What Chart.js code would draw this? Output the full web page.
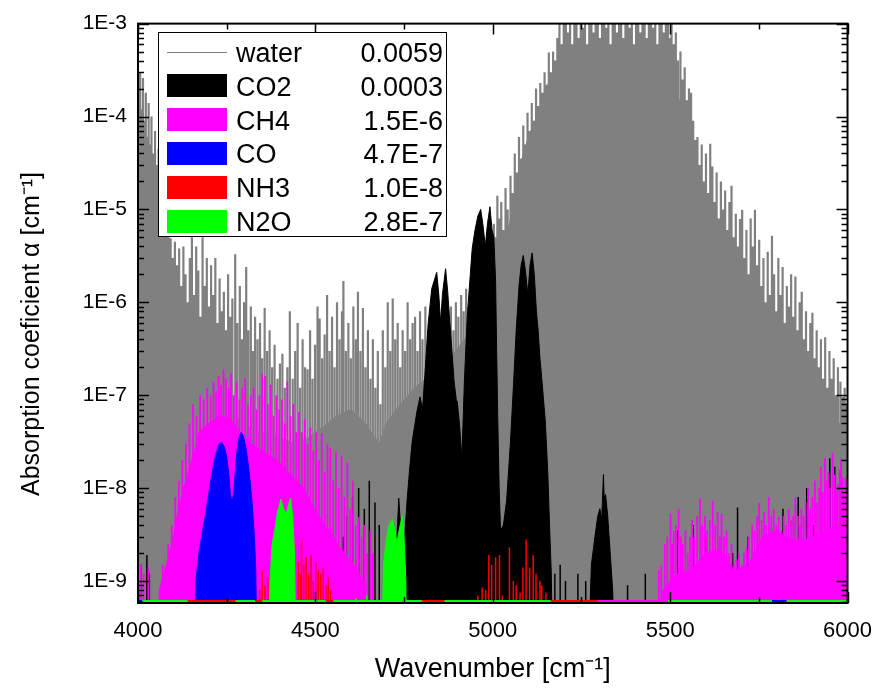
<!DOCTYPE html>
<html>
<head>
<meta charset="utf-8">
<script src="https://cdn.jsdelivr.net/npm/chart.js@4.4.1/dist/chart.umd.min.js"></script>
<style>
  html, body { margin: 0; padding: 0; background: #fff; }
</style>
</head>
<body>
<canvas id="spectrum" width="887" height="692"></canvas>
<script>
// ---- axes ----
const xRange = [4000, 6000];
const yRange = [5.8e-10, 1e-3];
const xTicks = [4000, 4500, 5000, 5500, 6000];
const yTicks = [1e-9, 1e-8, 1e-7, 1e-6, 1e-5, 1e-4, 1e-3];
const below = 1e-10; // level under the bottom of the axis
const yAxisTitle = 'Absorption coeficient α [cm⁻¹]';

// ---- legend ----
const gasNames = ['water', 'CO2', 'CH4', 'CO', 'NH3', 'N2O'];
const gasAmounts = ['0.0059', '0.0003', '1.5E-6', '4.7E-7', '1.0E-8', '2.8E-7'];

// ---- water: continuum mass + single lines ----
const waterMassNu = [4000, 4010, 4020, 4030, 4040, 4050, 4060, 4070, 4080, 4090, 4100, 4110, 4130, 4150, 4180, 4210, 4240, 4270, 4300, 4330, 4360, 4400, 4440, 4480, 4520, 4560, 4600, 4640, 4680, 4700, 4740, 4780, 4820, 4880, 4920, 4960, 5000, 5020, 5050, 5077, 5100, 5133, 5160, 5190, 5220, 5300, 5400, 5480, 5510, 5530, 5557, 5593, 5620, 5648, 5676, 5704, 5742, 5780, 5820, 5870, 5920, 5960, 6000];
const waterMassVal = [2e-5, 4e-5, 3e-5, 2e-5, 1.5e-5, 1e-5, 6e-6, 3e-6, 1e-6, 5e-7, 3e-7, 1.5e-7, 1.2e-7, 8e-8, 7e-8, 6e-8, 7e-8, 6e-8, 5e-8, 4e-8, 4e-8, 3.5e-8, 3e-8, 3.5e-8, 4.5e-8, 6e-8, 7e-8, 5e-8, 3e-8, 5e-8, 8e-8, 1.2e-7, 1.6e-7, 2.5e-7, 4e-7, 6e-7, 1.2e-6, 2.3e-6, 8e-6, 3e-5, 6e-5, 1.2e-4, 2.5e-4, 4e-4, 4.5e-4, 4.5e-4, 4.5e-4, 4e-4, 2e-4, 1.4e-4, 5.3e-5, 1.5e-5, 7e-6, 3e-6, 1e-6, 4e-7, 1.5e-7, 8e-8, 6e-8, 5e-8, 5e-8, 5e-8, 5e-8];

const waterLineNu = [
  4002, 4006, 4010, 4014, 4018, 4022, 4026, 4030, 4034, 4038, 4043, 4048, 4053, 4058,
  4063, 4068, 4074, 4080, 4086, 4092, 4098, 4104, 4110, 4116, 4122, 4128, 4134, 4140, 4146, 4152, 4158, 4164, 4170, 4176, 4182, 4188, 4194, 4200,
  4206, 4212, 4218, 4224, 4230, 4236, 4242, 4248, 4254, 4260, 4266, 4274, 4280, 4287, 4293, 4299, 4305, 4311, 4318, 4324, 4330, 4337, 4344, 4350, 4357, 4364, 4371, 4378, 4385, 4393, 4400, 4407, 4414, 4421,
  4428, 4436, 4443, 4450, 4457, 4464, 4471, 4478, 4485, 4492, 4499, 4506, 4512, 4519, 4526, 4533, 4540, 4547, 4554, 4561, 4568, 4575, 4579, 4586, 4593, 4600, 4607, 4614, 4620, 4627, 4634, 4641, 4648, 4655, 4662, 4669, 4676, 4683, 4690, 4697, 4704, 4711, 4718, 4725, 4732, 4739, 4746, 4753, 4760, 4767, 4774, 4781, 4788, 4795,
  4802, 4810, 4818, 4826, 4834, 4842, 4850, 4858, 4866, 4874, 4882, 4889, 4896, 4903, 4911, 4918, 4925, 4932, 4940, 4948, 4956, 4964, 4972, 4980, 4988, 4996,
  5003, 5008, 5013, 5018, 5024, 5030, 5036, 5042, 5050, 5056, 5062, 5068, 5074, 5080, 5086, 5092, 5098, 5104, 5110, 5116, 5122, 5128, 5134, 5140, 5146, 5152, 5158, 5164, 5170, 5176, 5182, 5188, 5194, 5200,
  5206, 5212, 5218, 5224, 5230, 5236, 5242, 5248, 5254, 5260, 5266, 5272, 5278, 5284, 5290, 5296, 5302, 5308, 5314, 5320, 5326, 5332, 5338, 5344, 5350, 5356, 5362, 5368, 5374, 5380, 5386, 5392, 5398, 5404, 5410, 5416, 5422, 5428, 5434, 5440, 5446, 5452, 5458, 5464, 5470, 5476, 5482, 5488, 5494, 5500,
  5504, 5510, 5516, 5522, 5529, 5535, 5541, 5547, 5553, 5559, 5565, 5571, 5577, 5583, 5589, 5595, 5601, 5607, 5613, 5619, 5625, 5631, 5637, 5643, 5649, 5655, 5661, 5667, 5673, 5679, 5685, 5691, 5697, 5703, 5709, 5715, 5721, 5727, 5733, 5739, 5745, 5751, 5757, 5763, 5769, 5775, 5781, 5787, 5793, 5799, 5805, 5811, 5817, 5823, 5829, 5835, 5841, 5847, 5853, 5859, 5865, 5871, 5877, 5883, 5889, 5895, 5901, 5907, 5913, 5919, 5925, 5931, 5937, 5943, 5949, 5955, 5961, 5967, 5973, 5980, 5986, 5992, 5998
];
const waterLinePeak = [
  2e-4, 3e-4, 1.2e-4, 2.6e-4, 9e-5, 1.8e-4, 6e-5, 1.4e-4, 5e-5, 1e-4, 4e-5, 7e-5, 3e-5, 4.5e-5,
  2e-5, 1e-5, 1.5e-5, 8e-6, 6e-6, 4.9e-6, 3e-6, 4.5e-6, 2.5e-6, 3.8e-6, 1.5e-6, 4e-6, 2e-6, 1e-6, 3e-6, 5.3e-6, 1.2e-6, 4e-6, 2.2e-6, 7e-7, 5e-6, 1.5e-6, 3e-6, 9e-7,
  2.5e-6, 1.2e-6, 3e-6, 6e-7, 1.8e-6, 8e-7, 1.3e-6, 5e-7, 2e-6, 7e-7, 1.1e-6, 3.3e-6, 6e-7, 1.5e-6, 4e-7, 1e-6, 2.4e-6, 5e-7, 9e-7, 3e-7, 7e-7, 4e-7, 6e-7, 2.5e-7, 8.7e-7, 3e-7, 5e-7, 2e-7, 3.5e-7, 1.5e-7, 2.2e-7, 2.8e-7, 1.2e-7, 2e-7,
  8e-7, 1.5e-7, 3e-7, 6e-7, 1.2e-7, 4e-7, 2e-7, 1.9e-7, 5e-7, 1.5e-7, 3.5e-7, 9e-7, 6.7e-7, 2.5e-7, 4.5e-7, 1.2e-6, 3e-7, 7e-7, 2e-7, 1e-6, 4e-7, 8e-7, 1.7e-6, 3e-7, 6e-7, 2.5e-7, 9e-7, 4e-7, 1.3e-6, 3e-7, 8.7e-7, 2e-7, 5e-7, 1.5e-7, 4e-7, 1.2e-7, 3e-7, 8e-8, 5e-7, 2e-7, 1e-6, 3e-7, 1.1e-6, 4e-7, 6e-7, 2e-7, 5e-7, 3e-7, 1e-6, 4e-7, 6e-7, 7e-7, 3e-7, 8e-7,
  4e-7, 9e-7, 5e-7, 7e-7, 4e-7, 6e-7, 5e-7, 8e-7, 4e-7, 6e-7, 9e-7, 5e-7, 1e-6, 7e-7, 1.2e-6, 8e-7, 1.4e-6, 9e-7, 1.5e-6, 1.2e-6, 2e-6, 1.5e-6, 2.5e-6, 2e-6, 3e-6, 4e-6,
  7e-6, 5e-6, 1.4e-5, 8e-6, 1.2e-5, 6e-6, 1.7e-5, 1e-5, 2.3e-5, 1.5e-5, 4e-5, 2.5e-5, 6e-5, 3.5e-5, 8e-5, 5e-5, 1.1e-4, 7e-5, 1.4e-4, 9e-5, 2e-4, 1.3e-4, 2.3e-4, 1.8e-4, 3e-4, 2.2e-4, 4.9e-4, 3e-4, 5e-4, 4e-4, 7e-4, 1.2e-3, 6e-4, 1.2e-3,
  1.2e-3, 8e-4, 1.2e-3, 6e-4, 1.2e-3, 1.2e-3, 7e-4, 1.2e-3, 9e-4, 1.2e-3, 6e-4, 1.2e-3, 1.2e-3, 8e-4, 1.2e-3, 1.2e-3, 7e-4, 1.2e-3, 1.2e-3, 9e-4, 1.2e-3, 6e-4, 1.2e-3, 1.2e-3, 8e-4, 1.2e-3, 1.2e-3, 7e-4, 1.2e-3, 1.2e-3, 9e-4, 1.2e-3, 6e-4, 1.2e-3, 1.2e-3, 8e-4, 1.2e-3, 1.2e-3, 7e-4, 1.2e-3, 1.2e-3, 9e-4, 1.2e-3, 6e-4, 1.2e-3, 1.2e-3, 8e-4, 1.2e-3, 1.2e-3, 7e-4,
  1e-3, 6e-4, 8e-4, 4e-4, 5e-4, 2.5e-4, 3.4e-4, 1.5e-4, 2e-4, 1.8e-4, 9e-5, 5.6e-5, 6e-5, 3e-5, 5e-5, 2e-5, 4e-5, 1.5e-5, 5.1e-5, 2.9e-5, 1.2e-5, 2.5e-5, 8e-6, 2e-5, 1e-5, 1.6e-5, 6e-6, 1.2e-5, 1.8e-5, 5e-6, 9e-6, 4e-6, 7.9e-6, 9.9e-6, 3e-6, 6e-6, 2e-6, 8e-6, 4e-6, 9.9e-6, 2.5e-6, 4.7e-6, 1.5e-6, 3e-6, 1e-6, 3.5e-6, 1.2e-6, 5.2e-6, 2e-6, 8e-7, 3e-6, 1.2e-6, 2.4e-6, 6e-7, 1.5e-6, 9e-7, 2e-6, 7e-7, 1.9e-6, 5e-7, 1e-6, 1.3e-6, 4e-7, 8e-7, 3e-7, 6e-7, 7.7e-7, 2.5e-7, 5e-7, 2e-7, 4e-7, 1.5e-7, 4.2e-7, 1.2e-7, 3e-7, 1.5e-7, 2.5e-7, 1e-7, 2e-7, 1.4e-7, 9.6e-8, 1.2e-7, 8e-8
];

// ---- CO2: band envelopes + isolated lines ----
const co2BandNu = [4725, 4730, 4735, 4740, 4746, 4752, 4758, 4765, 4773, 4786, 4795, 4802, 4810, 4818, 4828, 4842, 4848, 4853, 4858, 4867, 4873, 4879, 4885, 4891, 4897, 4900, 4906, 4913, 4920, 4928, 4942, 4950, 4958, 4966, 4972, 4979, 4985, 4992, 4998, 5003, 5008, 5011, 5014, 5018, 5022, 5030, 5039, 5050, 5058, 5066, 5074, 5080, 5086, 5092, 5099, 5105, 5111, 5117, 5123, 5128, 5133, 5137, 5142, 5148, 5155, 5160, 5165, 5169,
  5268, 5278, 5288, 5296, 5302, 5307, 5312, 5314, 5318, 5324, 5331, 5338, 5345];
const co2BandVal = [below, 3e-9, 7.8e-9, 4e-9, 2e-9, 3e-9, 7e-9, 1.5e-8, 3.2e-8, 6.6e-8, 9.6e-8, 7e-8, 2e-7, 6e-7, 1.4e-6, 2.1e-6, 1.2e-6, 6e-7, 1.2e-6, 2.3e-6, 1.3e-6, 6e-7, 3e-7, 1.4e-7, 9e-8, 8.5e-8, 5e-8, 2.1e-8, 1.4e-7, 7e-7, 3.8e-6, 6e-6, 8.5e-6, 1e-5, 7e-6, 4e-6, 7e-6, 1.07e-5, 6e-6, 5e-6, 1.7e-6, 3e-7, 6e-8, 1e-8, 3.5e-9, 4e-9, 7.3e-9, 3.2e-8, 1.2e-7, 4.9e-7, 1.5e-6, 2.5e-6, 3.2e-6, 2.2e-6, 1.2e-6, 2.5e-6, 3.4e-6, 2e-6, 8e-7, 4.9e-7, 2.5e-7, 1.7e-7, 1e-7, 5.3e-8, 1.5e-8, 4e-9, 1.2e-9, below,
  below, 1.5e-9, 3e-9, 5e-9, 6e-9, 4.5e-9, 1.4e-8, 8e-9, 8.5e-9, 5e-9, 2e-9, 8e-10, below];
const co2LineNu = [4008, 4025, 4032, 4545, 4560, 4578, 4590, 4605, 4622, 4638, 4652, 4668, 4680, 5175, 5190, 5205, 5240, 5262, 5380, 5430, 5521, 5565, 5600, 5676, 5690, 5720, 5818, 5861, 5885, 5905, 5950, 5964, 5990];
const co2LinePeak = [1.5e-9, 1.9e-9, 1.2e-9, 1.5e-9, 2e-9, 3e-9, 5e-9, 8e-9, 1e-8, 6e-9, 1.2e-8, 7e-9, 4e-9, 1.2e-9, 1.5e-9, 1e-9, 1.2e-9, 1e-9, 9e-10, 1.2e-9, 3.5e-9, 4e-9, 3e-9, 2e-9, 6.2e-9, 3e-9, 6e-9, 8e-9, 1e-8, 4e-9, 2.1e-8, 1.7e-8, 3.5e-9];

// ---- CH4: mass + lines ----
const ch4MassNu = [4050, 4060, 4080, 4100, 4110, 4125, 4144, 4160, 4172, 4200, 4230, 4260, 4290, 4320, 4350, 4393, 4430, 4468, 4496, 4540, 4580, 4615, 4640, 4660,
  5455, 5480, 5520, 5560, 5600, 5640, 5680, 5720, 5760, 5800, 5840, 5880, 5920, 5960, 6000];
const ch4MassVal = [below, 8e-10, 1.5e-9, 3e-9, 5e-9, 9e-9, 1.6e-8, 2.5e-8, 4e-8, 5e-8, 6e-8, 5.5e-8, 4e-8, 3e-8, 2.5e-8, 2e-8, 1.4e-8, 1e-8, 6e-9, 3.5e-9, 2e-9, 1.4e-9, 9e-10, below,
  below, 8e-10, 1.2e-9, 1.3e-9, 2e-9, 2.2e-9, 1.3e-9, 1.5e-9, 3e-9, 3.5e-9, 2.8e-9, 2.8e-9, 3.2e-9, 3.8e-9, 4e-9];
const ch4LineNu = [4008, 4016, 4030, 4070, 4085, 4095, 4105, 4115, 4125, 4135, 4145, 4155, 4165, 4175, 4185, 4195, 4205, 4213, 4220, 4227, 4234, 4241, 4248, 4256, 4262, 4270, 4278, 4286, 4294, 4302, 4310, 4318, 4326, 4334, 4342, 4350, 4358, 4366, 4374, 4382, 4390, 4398, 4406, 4414, 4421, 4430, 4438, 4446, 4454, 4462, 4470, 4478, 4486, 4494, 4502, 4510, 4518, 4526, 4534, 4542, 4550, 4558, 4566, 4574, 4582, 4590, 4598, 4606, 4614, 4622, 4630, 4638, 4646, 4655, 4662,
  5468, 5475, 5485, 5492, 5501, 5506, 5510, 5516, 5524, 5530, 5536, 5543, 5550, 5556, 5562, 5568, 5576, 5584, 5590, 5598, 5604, 5612, 5620, 5627, 5634, 5640, 5645, 5652, 5659, 5666, 5673, 5680, 5687, 5694, 5701, 5708, 5715, 5722, 5731, 5738, 5745, 5751, 5758, 5765, 5771, 5778, 5785, 5792, 5799, 5806, 5813, 5820, 5827, 5834, 5841, 5847, 5853, 5860, 5866, 5870, 5876, 5882, 5889, 5895, 5901, 5908, 5914, 5920, 5925, 5930, 5936, 5942, 5946, 5950, 5958, 5964, 5968, 5972, 5978, 5982, 5986, 5990, 5994, 5998];
const ch4LinePeak = [1.5e-9, 1.2e-9, 1.4e-9, 1.5e-9, 2.5e-9, 4e-9, 8e-9, 1.2e-8, 2e-8, 3e-8, 5e-8, 8e-8, 6e-8, 1e-7, 9e-8, 1.2e-7, 1e-7, 1.4e-7, 1.1e-7, 1.6e-7, 1.3e-7, 1.9e-7, 1.5e-7, 1.2e-7, 1.7e-7, 1e-7, 1.4e-7, 9e-8, 1.2e-7, 1.5e-7, 8e-8, 1e-7, 1.2e-7, 7e-8, 1e-7, 1.7e-7, 1.6e-7, 8e-8, 1.3e-7, 6e-8, 1e-7, 7e-8, 9e-8, 5e-8, 1.4e-7, 6e-8, 8e-8, 4e-8, 6.6e-8, 4e-8, 5.5e-8, 3e-8, 4.5e-8, 2.5e-8, 4e-8, 2e-8, 3.9e-8, 1.5e-8, 3e-8, 2.7e-8, 1.2e-8, 2.5e-8, 1e-8, 2.2e-8, 8e-9, 1.9e-8, 6e-9, 1.2e-8, 4e-9, 4.9e-9, 3e-9, 4e-9, 2e-9, 3.5e-9, 2e-9,
  1.3e-9, 1.5e-9, 2.5e-9, 3e-9, 5.3e-9, 2.5e-9, 3.5e-9, 4e-9, 6e-9, 3e-9, 2.5e-9, 3.5e-9, 2e-9, 3e-9, 4.5e-9, 3e-9, 5e-9, 7.8e-9, 4e-9, 5e-9, 3.5e-9, 4.5e-9, 7.3e-9, 4e-9, 5.5e-9, 3e-9, 5.3e-9, 3e-9, 3.5e-9, 2e-9, 2.5e-9, 1.5e-9, 1.7e-9, 2e-9, 1.5e-9, 2e-9, 2.3e-9, 3e-9, 4e-9, 3.5e-9, 5e-9, 6.9e-9, 4.5e-9, 5.5e-9, 4e-9, 8e-9, 5e-9, 6e-9, 4e-9, 4.9e-9, 3.5e-9, 5e-9, 4e-9, 6e-9, 4.5e-9, 5e-9, 8e-9, 5e-9, 4e-9, 6e-9, 5e-9, 7e-9, 1e-8, 6e-9, 8e-9, 1.2e-8, 7e-9, 1e-8, 1.7e-8, 9e-9, 2.1e-8, 1.2e-8, 1.5e-8, 1e-8, 2.4e-8, 1.4e-8, 9e-9, 1.1e-8, 1.6e-8, 2.1e-8, 1.3e-8, 9e-9, 1.3e-8, 1.1e-8];

// ---- CO band ----
const coBandNu = [4155, 4163, 4172, 4182, 4191, 4200, 4208, 4215, 4222, 4229, 4236, 4243, 4250, 4256, 4260, 4265, 4270, 4274, 4279, 4285, 4291, 4297, 4303, 4310, 4317, 4323, 4328, 4332, 4336];
const coBandVal = [below, 1e-9, 2e-9, 3.5e-9, 5.3e-9, 9e-9, 1.4e-8, 2e-8, 2.5e-8, 3e-8, 3.1e-8, 2.8e-8, 2.2e-8, 1.4e-8, 9e-9, 7e-9, 9e-9, 1.5e-8, 2.5e-8, 3.5e-8, 4e-8, 3.6e-8, 2.9e-8, 1.9e-8, 1.1e-8, 6e-9, 3e-9, 1.3e-9, below];

// ---- NH3 lines ----
const nh3LineNu = [4343, 4350, 4358, 4366, 4452, 4458, 4461, 4467, 4474, 4481, 4488, 4494, 4501, 4508, 4515, 4522, 4530, 4536, 4543,
  4958, 4970, 4980, 4989, 4997, 5008, 5019, 5027, 5047, 5058, 5066, 5077, 5085, 5094, 5104, 5114, 5122, 5133, 5138, 5150];
const nh3LinePeak = [8e-10, 1.3e-9, 9e-10, 1.1e-9, 1.6e-9, 1.2e-9, 2.8e-9, 1.5e-9, 1.8e-9, 1.2e-9, 1.9e-9, 1e-9, 1.6e-9, 1.3e-9, 1.2e-9, 1.4e-9, 9e-10, 1.1e-9, 8e-10,
  7e-10, 8.5e-10, 8e-10, 1.9e-9, 1.5e-9, 1.8e-9, 1.9e-9, 7e-10, 2.3e-9, 1e-9, 9e-10, 7.5e-10, 1.4e-9, 2.8e-9, 1.4e-9, 1.9e-9, 1.2e-9, 1e-9, 9e-10, 7.5e-10];

// ---- N2O bands ----
const n2oBandNu = [4368, 4372, 4378, 4385, 4393, 4403, 4410, 4418, 4424, 4430, 4436, 4441, 4446,
  4610, 4615, 4620, 4640, 4645, 4650,
  4686, 4692, 4700, 4708, 4717, 4724, 4730, 4736, 4745, 4750, 4755, 4758];
const n2oBandVal = [below, 1e-9, 2.5e-9, 3.5e-9, 5.5e-9, 7.6e-9, 6e-9, 5.3e-9, 6.5e-9, 7.8e-9, 5e-9, 2e-9, below,
  below, 6.5e-10, below, below, 7e-10, below,
  below, 1.5e-9, 2.8e-9, 4e-9, 4.6e-9, 3.5e-9, 2.6e-9, 3.5e-9, 5.1e-9, 3e-9, 1e-9, below];

// ---- gases lying under the axis, shown as a strip at the bottom ----
const stripFrom = [4000, 4140, 4330, 4529, 4800, 5163, 5296, 5787];
const stripTo = [4012, 4275, 4350, 4551, 4864, 5296, 5493, 5828];
const stripGas = ['CO', 'NH3', 'NH3', 'NH3', 'NH3', 'NH3', 'CH4', 'CO'];

// colours
const gasColors = { water: '#808080', CO2: '#000000', CH4: '#ff00ff', CO: '#0000ff', NH3: '#ff0000', N2O: '#00ff00' };
const FONT = "'Liberation Sans', Arial, sans-serif";

function curve(nu, val) {
  return nu.map((x, i) => ({ x: x, y: val[i] }));
}

// one vertical stroke per line, broken by a null
function sticks(nu, peak) {
  const pts = [];
  nu.forEach((x, i) => {
    pts.push({ x: x, y: yRange[0] }, { x: x, y: peak[i] }, { x: x, y: null });
  });
  return pts;
}

function filled(label, data, color, order) {
  return { label, data, order, borderColor: color, backgroundColor: color, borderWidth: 1, fill: 'start', clip: 0 };
}
function stroked(label, data, color, order, width) {
  return { label, data, order, borderColor: color, borderWidth: width || 1, fill: false, spanGaps: false, clip: 0 };
}

function stripFor(gas) {
  const pts = [];
  stripGas.forEach((g, i) => {
    if (g !== gas) return;
    pts.push({ x: stripFrom[i], y: yRange[0] }, { x: stripTo[i], y: yRange[0] }, { x: stripTo[i], y: null });
  });
  return pts;
}

// frame with inward ticks on all four sides
const frameTicks = {
  id: 'frameTicks',
  afterDatasetsDraw(chart) {
    const { ctx, chartArea: a, scales: { x, y } } = chart;
    ctx.save();
    ctx.strokeStyle = '#000';
    ctx.lineWidth = 1.5;
    ctx.beginPath();
    const xs = [];
    xTicks.forEach((v, i) => {
      xs.push([v, 11]);
      if (i < xTicks.length - 1) xs.push([(v + xTicks[i + 1]) / 2, 6]);
    });
    xs.forEach(([v, len]) => {
      const px = Math.round(x.getPixelForValue(v)) + 0.5;
      ctx.moveTo(px, a.top); ctx.lineTo(px, a.top + len);
      ctx.moveTo(px, a.bottom); ctx.lineTo(px, a.bottom - len);
    });
    const ys = [];
    [yTicks[0] / 10].concat(yTicks).forEach(d => {
      ys.push([d, 11]);
      for (let m = 2; m <= 9; m++) ys.push([d * m, 6]);
    });
    ys.forEach(([v, len]) => {
      if (v < yRange[0] * 0.999 || v > yRange[1] * 1.001) return;
      const py = Math.round(y.getPixelForValue(v)) + 0.5;
      ctx.moveTo(a.left, py); ctx.lineTo(a.left + len, py);
      ctx.moveTo(a.right, py); ctx.lineTo(a.right - len, py);
    });
    ctx.stroke();
    ctx.lineWidth = 2;
    ctx.strokeRect(a.left, a.top, a.right - a.left, a.bottom - a.top);
    ctx.restore();
  }
};

// y title, sitting a little below the axis middle as in the original
const yTitle = {
  id: 'yTitle',
  afterDraw(chart) {
    const ctx = chart.ctx;
    ctx.save();
    ctx.translate(32, 334);
    ctx.rotate(-Math.PI / 2);
    ctx.font = '25px ' + FONT;
    ctx.fillStyle = '#000';
    ctx.textAlign = 'center';
    ctx.textBaseline = 'middle';
    ctx.fillText(yAxisTitle, 0, 0);
    ctx.restore();
  }
};

// boxed legend with the mixing ratios in a second column
const gasLegend = {
  id: 'gasLegend',
  afterDraw(chart) {
    const ctx = chart.ctx;
    const left = 158, top = 32, w = 288, h = 204, row = 33.8;
    ctx.save();
    ctx.fillStyle = '#fff';
    ctx.fillRect(left, top, w, h);
    ctx.strokeStyle = '#000';
    ctx.lineWidth = 1;
    ctx.strokeRect(left + 0.5, top + 0.5, w, h);
    ctx.font = '27px ' + FONT;
    gasNames.forEach((name, i) => {
      const cy = 52 + i * row;
      const col = gasColors[name];
      if (name === 'water') {
        ctx.strokeStyle = col;
        ctx.beginPath();
        ctx.moveTo(167, Math.round(cy) + 0.5);
        ctx.lineTo(227, Math.round(cy) + 0.5);
        ctx.stroke();
      } else {
        ctx.fillStyle = col;
        ctx.fillRect(167, Math.round(cy - 11.5), 60, 23);
      }
      ctx.fillStyle = '#000';
      ctx.textAlign = 'left';
      ctx.fillText(name, 236, cy + 10);
      ctx.textAlign = 'right';
      ctx.fillText(gasAmounts[i], 443, cy + 10);
    });
    ctx.restore();
  }
};

new Chart(document.getElementById('spectrum'), {
  type: 'line',
  data: {
    datasets: [
      filled('water', curve(waterMassNu, waterMassVal), gasColors.water, 100),
      stroked('water lines', sticks(waterLineNu, waterLinePeak), gasColors.water, 99, 2.2),
      filled('CO2', curve(co2BandNu, co2BandVal), gasColors.CO2, 90),
      stroked('CO2 lines', sticks(co2LineNu, co2LinePeak), gasColors.CO2, 89, 1.5),
      filled('CH4', curve(ch4MassNu, ch4MassVal), gasColors.CH4, 80),
      stroked('CH4 lines', sticks(ch4LineNu, ch4LinePeak), gasColors.CH4, 79, 1.8),
      filled('CO', curve(coBandNu, coBandVal), gasColors.CO, 70),
      stroked('NH3', sticks(nh3LineNu, nh3LinePeak), gasColors.NH3, 60, 1.5),
      filled('N2O', curve(n2oBandNu, n2oBandVal), gasColors.N2O, 50),
      stroked('N2O floor', [{ x: xRange[0], y: yRange[0] }, { x: xRange[1], y: yRange[0] }], gasColors.N2O, 40, 6),
      stroked('NH3 floor', stripFor('NH3'), gasColors.NH3, 39, 6),
      stroked('CH4 floor', stripFor('CH4'), gasColors.CH4, 38, 6),
      stroked('CO floor', stripFor('CO'), gasColors.CO, 37, 6)
    ]
  },
  options: {
    responsive: false,
    animation: false,
    devicePixelRatio: 1,
    elements: { point: { radius: 0, hitRadius: 0 }, line: { tension: 0 } },
    layout: { padding: { left: 0, top: 21, right: 27, bottom: 0 } },
    plugins: { legend: { display: false }, tooltip: { enabled: false } },
    events: [],
    scales: {
      x: {
        type: 'linear',
        min: xRange[0],
        max: xRange[1],
        afterBuildTicks: s => { s.ticks = xTicks.map(v => ({ value: v })); },
        afterFit: s => { s.height = 89; },
        grid: { display: false, drawTicks: false },
        border: { display: false },
        ticks: { color: '#000', font: { family: FONT, size: 22 }, padding: 15, maxRotation: 0, autoSkip: false, callback: v => String(v) },
        title: { display: true, text: 'Wavenumber [cm⁻¹]', color: '#000', font: { family: FONT, size: 27 }, padding: { top: 0, bottom: 6 } }
      },
      y: {
        type: 'logarithmic',
        min: yRange[0],
        max: yRange[1],
        afterBuildTicks: s => { s.ticks = yTicks.map(v => ({ value: v })); },
        afterFit: s => { s.width = 138; },
        grid: { display: false, drawTicks: false },
        border: { display: false },
        ticks: { color: '#000', font: { family: FONT, size: 21 }, padding: 11, autoSkip: false, callback: v => '1E' + Math.round(Math.log10(v)) },
        title: { display: false }
      }
    }
  },
  plugins: [frameTicks, yTitle, gasLegend]
});
</script>
</body>
</html>
